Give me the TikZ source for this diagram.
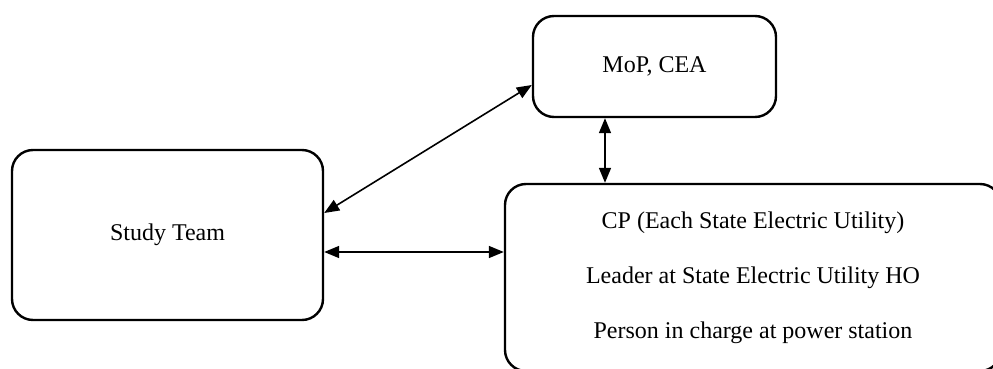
\documentclass[tikz,border=0pt]{standalone}
\usepackage{fontspec}
\setmainfont{Liberation Serif}
\usepackage{tikz}
\usetikzlibrary{positioning, arrows.meta}

\begin{document}
\begin{tikzpicture}[x=1pt, y=-1pt,
    box/.style={draw, line width=2.4pt, rounded corners=21pt, align=center,
        font=\fontsize{24}{28}\selectfont, inner sep=0pt},
    arr/.style={{Triangle[length=15pt,width=12pt]}-{Triangle[length=15pt,width=12pt]}, line width=1.6pt}]
    \useasboundingbox (0,0) rectangle (993,369);

    % Boxes
    \node[box, minimum width=243pt, minimum height=101pt] (mop) at (654.5,66.5) {MoP, CEA};
    \node[box, minimum width=311pt, minimum height=170pt] (study) at (167.5,235) {Study Team};
    \node[box, minimum width=496pt, minimum height=187pt] (cp) at (753,277.5)
        {CP (Each State Electric Utility)\\[27pt]
         Leader at State Electric Utility HO\\[27pt]
         Person in charge at power station};

    % Links
    \path[arr]
        ([yshift=22pt]study.east) edge ([yshift=-18.5pt]mop.west)
        ([yshift=-17pt]study.east) edge ([yshift=-17pt]study.east -| cp.west)
        ([xshift=-49.5pt]mop.south) edge ([xshift=-49.5pt]mop.south |- cp.north);
\end{tikzpicture}
\end{document}
